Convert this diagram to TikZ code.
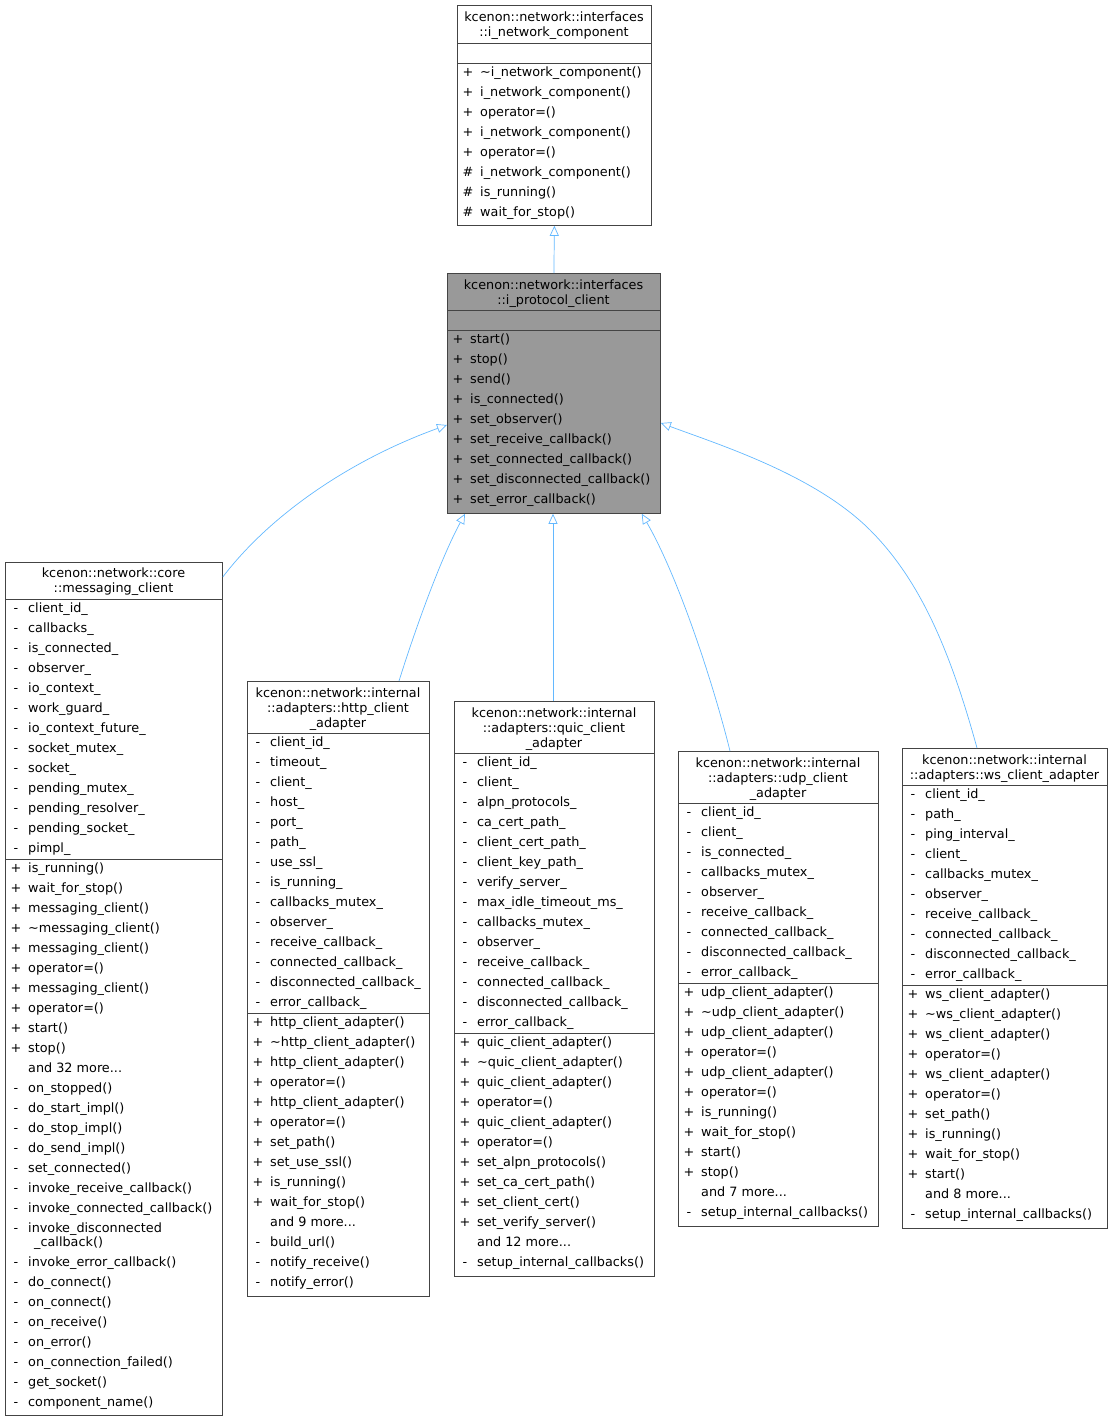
\documentclass[tikz,border=0pt]{standalone}
\usepackage{fontspec}
\setmainfont{DejaVu Sans}
\usetikzlibrary{arrows.meta}
\definecolor{edge}{HTML}{63B8FF}
\definecolor{bd}{HTML}{444444}
\newcommand\ddd{...}
\tikzset{
 box/.style={draw=bd,line width=0.8pt,inner sep=0,anchor=north west},
 mk/.style={anchor=base,inner sep=0,font=\fontsize{12.8}{14}\selectfont},
 tx/.style={anchor=base west,inner sep=0,font=\fontsize{12.8}{14}\selectfont},
 ttl/.style={anchor=base,inner sep=0,font=\fontsize{12.8}{14}\selectfont},
 inh/.style={draw=edge,line width=0.7pt,-{Triangle[open,length=10pt,width=9pt,fill=white]}},
}
\newcommand\mem[3]{\foreach \m/\t [count=\i from 0] in {#3} {\node[mk] at (#1+11,#2+4.5+\i*20) {\m}; \node[tx] at (#1+23,#2+4.5+\i*20) {\t};}}
\newcommand\cbox[8]{% name,x1,y1,x2,y2,div1,div2,fill
 \node[box,fill=#8,minimum width=#4pt-#2pt,minimum height=#5pt-#3pt] (#1) at (#2,#3) {};
 \draw[bd,line width=0.8pt] (#2,#6) -- (#4,#6);
 \draw[bd,line width=0.8pt] (#2,#7) -- (#4,#7);}
\newcommand\tl[3]{\foreach \s [count=\i from 0] in {#3} {\node[ttl] at (#1,#2+4.5+\i*15) {\s};}}
\begin{document}
\begin{tikzpicture}[x=1pt,y=-1pt]
\useasboundingbox (0,0) rectangle (1113,1421);
% i_network_component
\cbox{inc}{457}{5}{651}{225}{43}{63}{white}
\tl{554}{17}{kcenon::network::interfaces,::i\_network\_component}
\mem{457}{72}{+/\textasciitilde i\_network\_component(),+/i\_network\_component(),+/operator=(),+/i\_network\_component(),+/operator=(),\#/i\_network\_component(),\#/is\_running(),\#/wait\_for\_stop()}
% i_protocol_client
\cbox{ipc}{447}{273}{660}{513}{310}{330}{black!40}
\tl{553.5}{285}{kcenon::network::interfaces,::i\_protocol\_client}
\mem{447}{339}{+/start(),+/stop(),+/send(),+/is\_connected(),+/set\_observer(),+/set\_receive\_callback(),+/set\_connected\_callback(),+/set\_disconnected\_callback(),+/set\_error\_callback()}
% messaging_client
\cbox{mc}{5}{562}{222}{1415}{599}{859}{white}
\tl{113.5}{573}{kcenon::network::core,::messaging\_client}
\mem{5}{608}{-/client\_id\_,-/callbacks\_,-/is\_connected\_,-/observer\_,-/io\_context\_,-/work\_guard\_,-/io\_context\_future\_,-/socket\_mutex\_,-/socket\_,-/pending\_mutex\_,-/pending\_resolver\_,-/pending\_socket\_,-/pimpl\_}
\mem{5}{868}{+/is\_running(),+/wait\_for\_stop(),+/messaging\_client(),+/\textasciitilde messaging\_client(),+/messaging\_client(),+/operator=(),+/messaging\_client(),+/operator=(),+/start(),+/stop(),{}/and 32 more\ddd,-/on\_stopped(),-/do\_start\_impl(),-/do\_stop\_impl(),-/do\_send\_impl(),-/set\_connected(),-/invoke\_receive\_callback(),-/invoke\_connected\_callback(),-/invoke\_disconnected}
\node[tx] at (34,1246.5) {\_callback()};
\mem{5}{1262}{-/invoke\_error\_callback(),-/do\_connect(),-/on\_connect(),-/on\_receive(),-/on\_error(),-/on\_connection\_failed(),-/get\_socket(),-/component\_name()}
% http
\cbox{http}{247}{681}{429}{1296}{733}{1013}{white}
\tl{338}{693}{kcenon::network::internal,::adapters::http\_client,\_adapter}
\mem{247}{742}{-/client\_id\_,-/timeout\_,-/client\_,-/host\_,-/port\_,-/path\_,-/use\_ssl\_,-/is\_running\_,-/callbacks\_mutex\_,-/observer\_,-/receive\_callback\_,-/connected\_callback\_,-/disconnected\_callback\_,-/error\_callback\_}
\mem{247}{1022}{+/http\_client\_adapter(),+/\textasciitilde http\_client\_adapter(),+/http\_client\_adapter(),+/operator=(),+/http\_client\_adapter(),+/operator=(),+/set\_path(),+/set\_use\_ssl(),+/is\_running(),+/wait\_for\_stop(),{}/and 9 more\ddd,-/build\_url(),-/notify\_receive(),-/notify\_error()}
% quic
\cbox{quic}{454}{701}{654}{1276}{753}{1033}{white}
\tl{554}{713}{kcenon::network::internal,::adapters::quic\_client,\_adapter}
\mem{454}{762}{-/client\_id\_,-/client\_,-/alpn\_protocols\_,-/ca\_cert\_path\_,-/client\_cert\_path\_,-/client\_key\_path\_,-/verify\_server\_,-/max\_idle\_timeout\_ms\_,-/callbacks\_mutex\_,-/observer\_,-/receive\_callback\_,-/connected\_callback\_,-/disconnected\_callback\_,-/error\_callback\_}
\mem{454}{1042}{+/quic\_client\_adapter(),+/\textasciitilde quic\_client\_adapter(),+/quic\_client\_adapter(),+/operator=(),+/quic\_client\_adapter(),+/operator=(),+/set\_alpn\_protocols(),+/set\_ca\_cert\_path(),+/set\_client\_cert(),+/set\_verify\_server(),{}/and 12 more\ddd,-/setup\_internal\_callbacks()}
% udp
\cbox{udp}{678}{751}{878}{1226}{803}{983}{white}
\tl{778}{763}{kcenon::network::internal,::adapters::udp\_client,\_adapter}
\mem{678}{812}{-/client\_id\_,-/client\_,-/is\_connected\_,-/callbacks\_mutex\_,-/observer\_,-/receive\_callback\_,-/connected\_callback\_,-/disconnected\_callback\_,-/error\_callback\_}
\mem{678}{992}{+/udp\_client\_adapter(),+/\textasciitilde udp\_client\_adapter(),+/udp\_client\_adapter(),+/operator=(),+/udp\_client\_adapter(),+/operator=(),+/is\_running(),+/wait\_for\_stop(),+/start(),+/stop(),{}/and 7 more\ddd,-/setup\_internal\_callbacks()}
% ws
\cbox{ws}{902}{748}{1107}{1228}{785}{985}{white}
\tl{1004.5}{760}{kcenon::network::internal,::adapters::ws\_client\_adapter}
\mem{902}{794}{-/client\_id\_,-/path\_,-/ping\_interval\_,-/client\_,-/callbacks\_mutex\_,-/observer\_,-/receive\_callback\_,-/connected\_callback\_,-/disconnected\_callback\_,-/error\_callback\_}
\mem{902}{994}{+/ws\_client\_adapter(),+/\textasciitilde ws\_client\_adapter(),+/ws\_client\_adapter(),+/operator=(),+/ws\_client\_adapter(),+/operator=(),+/set\_path(),+/is\_running(),+/wait\_for\_stop(),+/start(),{}/and 8 more\ddd,-/setup\_internal\_callbacks()}
% edges
\draw[inh] (ipc.north) -- (inc.south);
\draw[inh] ([yshift=-15pt]mc.north east) .. controls (270,515) and (350,460) .. ([yshift=-152pt]ipc.north west);
\draw[inh] ([xshift=152pt]http.north west) .. controls (415,630) and (440,560) .. ([xshift=18pt]ipc.south west);
\draw[inh] ([xshift=99pt]quic.north west) -- ([xshift=106pt]ipc.south west);
\draw[inh] ([xshift=52pt]udp.north west) .. controls (715,690) and (680,580) .. ([xshift=-19pt]ipc.south east);
\draw[inh] ([xshift=75pt]ws.north west) .. controls (950,650) and (920,580) .. (870,530) .. controls (815,475) and (720,445) .. ([yshift=-150pt]ipc.north east);
\end{tikzpicture}
\end{document}
